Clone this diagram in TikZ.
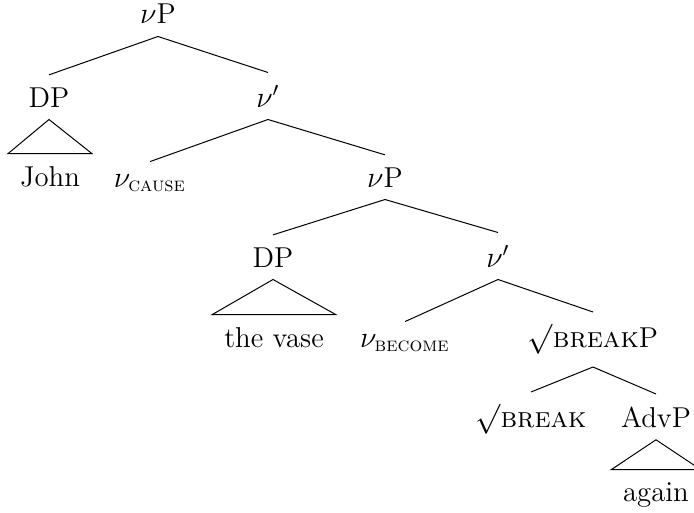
\documentclass[tikz,border=0pt]{standalone}
\usepackage{amsmath}

\begin{document}
\begin{tikzpicture}[x = 0.4 pt, y = -0.4 pt, font = \fontsize{11.5}{13.5}\selectfont,
	treenode/.style = {anchor = base, inner xsep = 4.6 pt, inner ysep = 4.8 pt}]

	% Page
	
	\useasboundingbox (0, 0) rectangle (694, 513);
	
	% Labels
	
	\node [treenode] (vPa) at (158, 24) {$\nu$P};
	\node [treenode] (DPa) at (49, 107) {DP};
	\node [treenode] (vbara) at (268, 107) {$\nu'$};
	\node [treenode] (John) at (50, 186) {John};
	\node [treenode] (vcause) at (150, 187) {$\nu_{\textsc{cause}}$};
	\node [treenode] (vPb) at (385, 187) {$\nu$P};
	\node [treenode] (DPb) at (273, 267) {DP};
	\node [treenode] (vbarb) at (498, 267) {$\nu'$};
	\node [treenode] (vase) at (274, 347) {the vase};
	\node [treenode] (vbecome) at (405, 347) {$\nu_{\textsc{become}}$};
	\node [treenode] (rootP) at (593, 347) {$\surd$\textsc{break}P};
	\node [treenode] (root) at (531, 427) {$\surd$\textsc{break}};
	\node [treenode] (AdvP) at (656, 427) {AdvP};
	\node [treenode] (again) at (656, 501) {again};
	
	% Branches
	
	\draw (vPa.south) -- (DPa.north);
	\draw (vPa.south) -- (vbara.north);
	\draw (vbara.south) -- (vcause.north);
	\draw (vbara.south) -- (vPb.north);
	\draw (vPb.south) -- (DPb.north);
	\draw (vPb.south) -- (vbarb.north);
	\draw (vbarb.south) -- (vbecome.north);
	\draw (vbarb.south) -- (rootP.north);
	\draw (rootP.south) -- (root.north);
	\draw (rootP.south) -- (AdvP.north);
	
	% Roofs
	
	\draw (DPa.south) -- (John.north west) -- (John.north east) -- cycle;
	\draw (DPb.south) -- (vase.north west) -- (vase.north east) -- cycle;
	\draw (AdvP.south) -- (again.north west) -- (again.north east) -- cycle;

\end{tikzpicture}
\end{document}
